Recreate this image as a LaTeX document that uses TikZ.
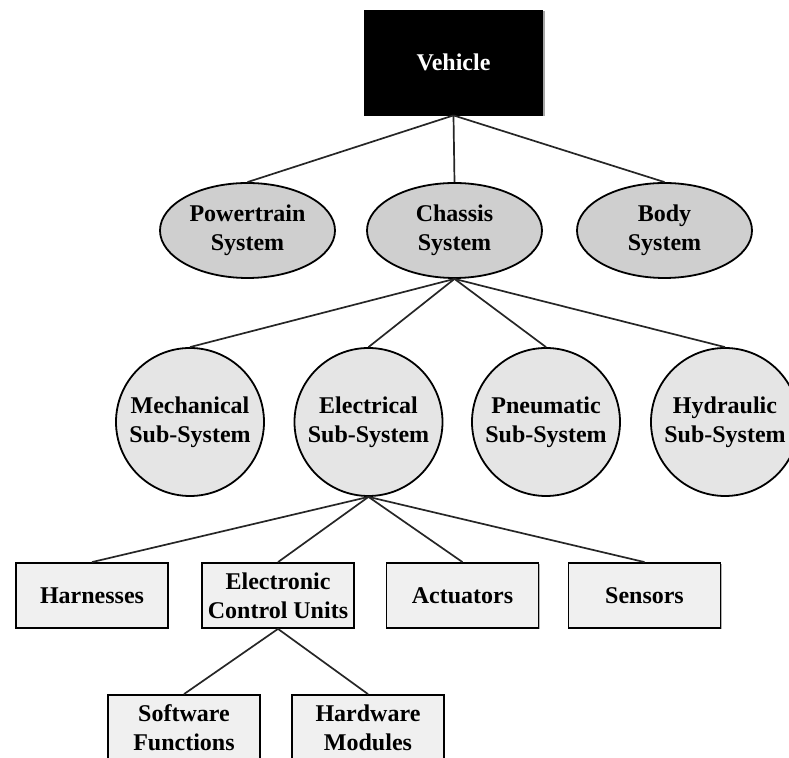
\documentclass[tikz,border=0pt]{standalone}
\usepackage{fontspec}
\setmainfont{Liberation Serif}
\usetikzlibrary{shapes.geometric,shadows}

\tikzset{
  top box/.style={rectangle, fill=black, draw=black, text=white, minimum width=89pt, minimum height=52.5pt, inner sep=0pt,
    drop shadow={shadow xshift=1pt, shadow yshift=-0.6pt, fill=gray!70, opacity=1}},
  system/.style={ellipse, fill=gray!38, draw=black, line width=0.9pt, minimum width=87.5pt, minimum height=47.5pt, inner sep=0pt, align=center},
  sub system/.style={circle, fill=gray!20, draw=black, line width=0.9pt, minimum size=74pt, inner sep=0pt, align=center},
  part box/.style={rectangle, fill=gray!12, draw=black, line width=0.9pt, minimum width=76pt, minimum height=32.5pt, inner sep=0pt, align=center,
    drop shadow={shadow xshift=0.6pt, shadow yshift=-0.6pt, fill=gray!60, opacity=1}},
  link/.style={draw=black!85, line width=0.85pt}
}

\begin{document}
\begin{tikzpicture}[x=0.5pt,y=-0.5pt,font=\fontsize{12}{14.5}\selectfont\bfseries]

  \useasboundingbox (0,0) rectangle (789,758);

  \node [top box] (vehicle) at (453.5,62.5) {Vehicle};

  \node [system] (powertrain) at (247.5,230.5) {Powertrain\\System};
  \node [system] (chassis) at (454.5,230.5) {Chassis\\System};
  \node [system] (body) at (664.5,230.5) {Body\\System};

  \node [sub system] (mechanical) at (190,422) {Mechanical\\Sub-System};
  \node [sub system] (electrical) at (368.5,422) {Electrical\\Sub-System};
  \node [sub system] (pneumatic) at (546,422) {Pneumatic\\Sub-System};
  \node [sub system] (hydraulic) at (725,422) {Hydraulic\\Sub-System};

  \node [part box] (harnesses) at (92,595.5) {Harnesses};
  \node [part box] (ecu) at (278,595.5) {Electronic\\Control Units};
  \node [part box] (actuators) at (462.5,595.5) {Actuators};
  \node [part box] (sensors) at (644.5,595.5) {Sensors};

  \node [part box] (software) at (184,727.5) {Software\\Functions};
  \node [part box] (hardware) at (368,727.5) {Hardware\\Modules};

  \foreach \child in {powertrain,chassis,body}
    \draw[link] (vehicle.south) -- (\child.north);
  \foreach \child in {mechanical,electrical,pneumatic,hydraulic}
    \draw[link] (chassis.south) -- (\child.north);
  \foreach \child in {harnesses,ecu,actuators,sensors}
    \draw[link] (electrical.south) -- (\child.north);
  \foreach \child in {software,hardware}
    \draw[link] (ecu.south) -- (\child.north);

\end{tikzpicture}
\end{document}
